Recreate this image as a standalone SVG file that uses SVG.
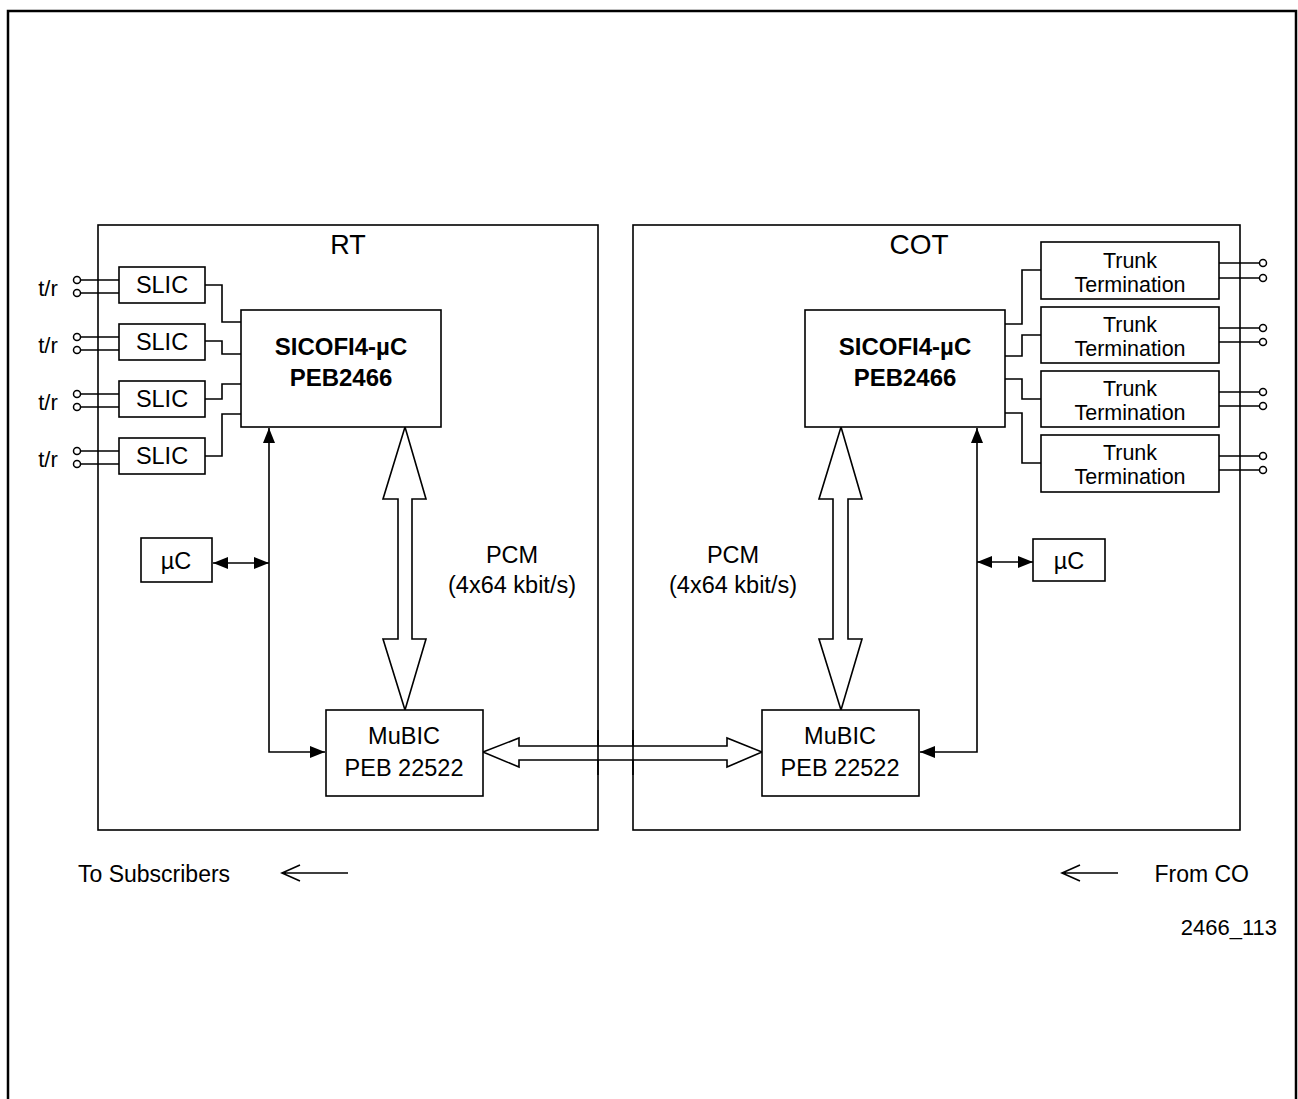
<svg xmlns="http://www.w3.org/2000/svg" width="1298" height="1099" viewBox="0 0 1298 1099">
<style>
.ln{fill:none;stroke:#000;stroke-width:1.6}
.bx{fill:#fff;stroke:#000;stroke-width:1.6}
.t{font-family:"Liberation Sans",Arial,sans-serif;font-size:23.5px;fill:#000;text-anchor:middle}
.b{font-weight:bold;font-size:24px}
.tt{font-size:21.5px}
.term{fill:#fff;stroke:#000;stroke-width:1.5}
</style>
<defs>
<marker id="ah" markerWidth="15" markerHeight="12" refX="15" refY="6" orient="auto-start-reverse" markerUnits="userSpaceOnUse">
<path d="M0,0 L15,6 L0,12 Z" fill="#000"/>
</marker>
</defs>
<rect width="1298" height="1099" fill="#fff"/>
<path d="M8,1099 V11 H1296 V1099" fill="none" stroke="#000" stroke-width="2.5"/>

<g id="RT">
<rect x="98" y="225" width="500" height="605" class="ln"/>
<text x="348" y="254" class="t" style="font-size:27px">RT</text>
</g>
<g id="COT">
<rect x="633" y="225" width="607" height="605" class="ln"/>
<text x="919" y="254" class="t" style="font-size:28px">COT</text>
</g>

<g id="connectors">
<path class="ln" d="M80,280 H119 M80,293 H119 M80,337 H119 M80,350 H119 M80,394 H119 M80,407 H119 M80,451 H119 M80,464 H119"/>
<path class="ln" d="M205,285 H222 V322 H241 M205,341 H222 V354 H241 M205,399 H222 V384 H241 M205,456 H222 V414 H241"/>
<path class="ln" d="M1005,324 H1022 V270 H1041 M1005,356 H1022 V335 H1041 M1005,379 H1022 V399 H1041 M1005,413 H1022 V463 H1041"/>
<path class="ln" d="M1219,263 H1260 M1219,278 H1260 M1219,328 H1260 M1219,342 H1260 M1219,392 H1260 M1219,406 H1260 M1219,456 H1260 M1219,470 H1260"/>
<path class="ln" d="M269,428 V752 H325" marker-start="url(#ah)" marker-end="url(#ah)"/>
<path class="ln" d="M213,563 H269" marker-start="url(#ah)" marker-end="url(#ah)"/>
<path class="ln" d="M977,428 V752 H920" marker-start="url(#ah)" marker-end="url(#ah)"/>
<path class="ln" d="M977,562 H1033" marker-start="url(#ah)" marker-end="url(#ah)"/>
<path class="bx" d="M405,427 L426,499 H412 V639 H426 L405,710 L383,639 H398 V499 H383 Z"/>
<path class="bx" d="M841,427 L862,499 H848 V639 H862 L841,710 L819,639 H833 V499 H819 Z"/>
<path class="bx" d="M483,752 L519,738 V746 H727 V738 L762,752 L727,767 V760 H519 V767 Z"/>
<path class="ln" d="M598,730 V775 M633,730 V775"/>
<path class="ln" d="M282,873 H348 M300,865 L282,873 L300,881"/>
<path class="ln" d="M1062,873 H1118 M1080,865 L1062,873 L1080,881"/>
</g>

<g id="terminals">
<circle cx="77" cy="280" r="3.5" class="term"/><circle cx="77" cy="293" r="3.5" class="term"/>
<circle cx="77" cy="337" r="3.5" class="term"/><circle cx="77" cy="350" r="3.5" class="term"/>
<circle cx="77" cy="394" r="3.5" class="term"/><circle cx="77" cy="407" r="3.5" class="term"/>
<circle cx="77" cy="451" r="3.5" class="term"/><circle cx="77" cy="464" r="3.5" class="term"/>
<circle cx="1263" cy="263" r="3.5" class="term"/><circle cx="1263" cy="278" r="3.5" class="term"/>
<circle cx="1263" cy="328" r="3.5" class="term"/><circle cx="1263" cy="342" r="3.5" class="term"/>
<circle cx="1263" cy="392" r="3.5" class="term"/><circle cx="1263" cy="406" r="3.5" class="term"/>
<circle cx="1263" cy="456" r="3.5" class="term"/><circle cx="1263" cy="470" r="3.5" class="term"/>
<text x="48" y="296" class="t" style="font-size:22px">t/r</text>
<text x="48" y="353" class="t" style="font-size:22px">t/r</text>
<text x="48" y="410" class="t" style="font-size:22px">t/r</text>
<text x="48" y="467" class="t" style="font-size:22px">t/r</text>
</g>

<g id="slic1"><rect x="119" y="267" width="86" height="36" class="bx"/><text x="162" y="293" class="t">SLIC</text></g>
<g id="slic2"><rect x="119" y="324" width="86" height="36" class="bx"/><text x="162" y="350" class="t">SLIC</text></g>
<g id="slic3"><rect x="119" y="381" width="86" height="36" class="bx"/><text x="162" y="407" class="t">SLIC</text></g>
<g id="slic4"><rect x="119" y="438" width="86" height="36" class="bx"/><text x="162" y="464" class="t">SLIC</text></g>

<g id="sicofi-rt"><rect x="241" y="310" width="200" height="117" class="bx"/>
<text x="341" y="355" class="t b">SICOFI4-µC</text><text x="341" y="386" class="t b">PEB2466</text></g>
<g id="sicofi-cot"><rect x="805" y="310" width="200" height="117" class="bx"/>
<text x="905" y="355" class="t b">SICOFI4-µC</text><text x="905" y="386" class="t b">PEB2466</text></g>

<g id="uc-rt"><rect x="141" y="538" width="71" height="44" class="bx"/><text x="176" y="569" class="t">µC</text></g>
<g id="uc-cot"><rect x="1033" y="539" width="72" height="42" class="bx"/><text x="1069" y="569" class="t">µC</text></g>

<g id="mubic-rt"><rect x="326" y="710" width="157" height="86" class="bx"/>
<text x="404" y="744" class="t">MuBIC</text><text x="404" y="776" class="t">PEB 22522</text></g>
<g id="mubic-cot"><rect x="762" y="710" width="157" height="86" class="bx"/>
<text x="840" y="744" class="t">MuBIC</text><text x="840" y="776" class="t">PEB 22522</text></g>

<g id="trunk1"><rect x="1041" y="242" width="178" height="57" class="bx"/><text x="1130" y="268" class="t tt">Trunk</text><text x="1130" y="292" class="t tt">Termination</text></g>
<g id="trunk2"><rect x="1041" y="307" width="178" height="56" class="bx"/><text x="1130" y="332" class="t tt">Trunk</text><text x="1130" y="356" class="t tt">Termination</text></g>
<g id="trunk3"><rect x="1041" y="371" width="178" height="56" class="bx"/><text x="1130" y="396" class="t tt">Trunk</text><text x="1130" y="420" class="t tt">Termination</text></g>
<g id="trunk4"><rect x="1041" y="435" width="178" height="57" class="bx"/><text x="1130" y="460" class="t tt">Trunk</text><text x="1130" y="484" class="t tt">Termination</text></g>

<g id="labels">
<text x="512" y="563" class="t">PCM</text><text x="512" y="593" class="t">(4x64 kbit/s)</text>
<text x="733" y="563" class="t">PCM</text><text x="733" y="593" class="t">(4x64 kbit/s)</text>
<text x="78" y="882" class="t" style="text-anchor:start;font-size:23px">To Subscribers</text>
<text x="1249" y="882" class="t" style="text-anchor:end;font-size:23px">From CO</text>
<text x="1277" y="935" class="t" style="text-anchor:end;font-size:22px">2466_113</text>
</g>
</svg>
